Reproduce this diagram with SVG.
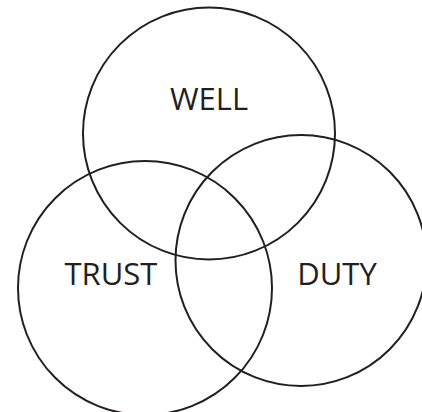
<svg xmlns="http://www.w3.org/2000/svg" width="422" height="412" viewBox="0 0 422 412">
<style>
.c{fill:none;stroke:#231f20;stroke-width:2}
.t{font-family:"Open Sans",sans-serif;font-size:31px;fill:#231f20;text-anchor:middle}
</style>
<rect width="422" height="412" fill="#fff"/>
<g id="well"><circle class="c" cx="209" cy="133.5" r="126"/><text class="t" x="209" y="110">WELL</text></g>
<g id="trust"><circle class="c" cx="145" cy="288" r="127"/><text class="t" x="111" y="285">TRUST</text></g>
<g id="duty"><circle class="c" cx="301" cy="260.5" r="125.5"/><text class="t" x="337" y="285">DUTY</text></g>
<g id="connectors"/>
</svg>
